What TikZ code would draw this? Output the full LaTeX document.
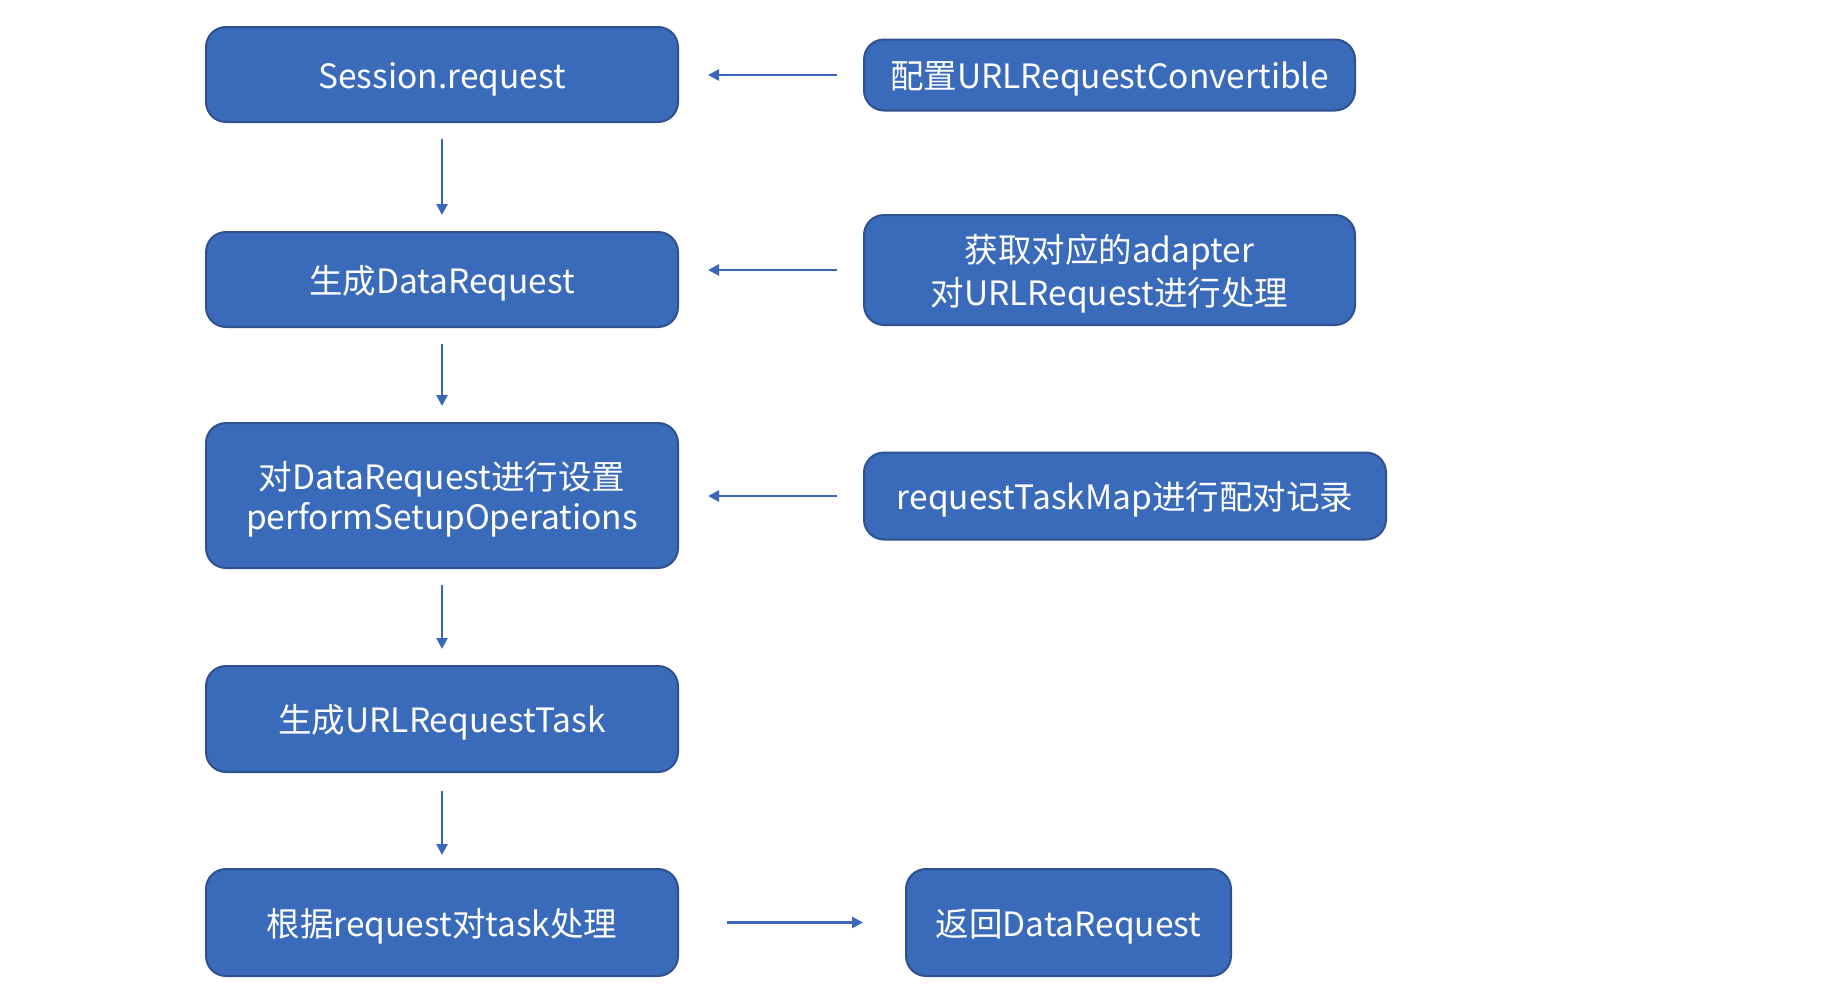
\documentclass[tikz,border=0pt]{standalone}
\usepackage{fontspec}
\setmainfont{Noto Sans CJK SC}
\usetikzlibrary{arrows.meta}
\definecolor{boxfill}{HTML}{3A6ABA}
\definecolor{boxline}{HTML}{2F528F}
\definecolor{arrowcol}{HTML}{3A67B8}
\begin{document}
\begin{tikzpicture}[x=1pt,y=-1pt,
  box/.style={draw=boxline, line width=2pt, fill=boxfill, rounded corners=20pt,
    text=white, align=center, inner sep=0pt, text height=32pt, text depth=5pt,
    font=\fontsize{33.5}{43}\selectfont},
  conn/.style={draw=arrowcol, line width=2.6pt, -{Triangle[length=11pt,width=11pt]}}]
\useasboundingbox (0,0) rectangle (1822,996);
% left column
\node[box, minimum width=472pt, minimum height=95pt] (b1) at (442,74.5) {Session.request};
\node[box, minimum width=472pt, minimum height=95pt] (b2) at (442,279.5) {生成DataRequest};
\node[box, minimum width=472pt, minimum height=145pt, text height=72pt] (b3) at (442,495.5) {对DataRequest进行设置\\[-3pt]performSetupOperations};
\node[box, minimum width=472pt, minimum height=106pt] (b4) at (442,719) {生成URLRequestTask};
\node[box, minimum width=472pt, minimum height=107pt] (b5) at (442,922.5) {根据request对task处理};
% right column
\node[box, minimum width=491pt, minimum height=71pt] (r1) at (1109.5,75) {配置URLRequestConvertible};
\node[box, minimum width=491pt, minimum height=110pt, text height=75pt] (r2) at (1109.5,270) {获取对应的adapter\\对URLRequest进行处理};
\node[box, minimum width=522pt, minimum height=87pt] (r3) at (1125,496) {requestTaskMap进行配对记录};
\node[box, minimum width=325pt, minimum height=107pt] (r5) at (1068.5,922.5) {返回DataRequest};
% vertical connectors
\draw[conn, shorten <=16pt, shorten >=16pt] (b1.south) -- (b2.north);
\draw[conn, shorten <=16pt, shorten >=16pt] (b2.south) -- (b3.north);
\draw[conn, shorten <=16pt, shorten >=16pt] (b3.south) -- (b4.north);
\draw[conn, shorten <=18pt, shorten >=13pt] (b4.south) -- (b5.north);
% horizontal connectors
\draw[conn, shorten <=26pt, shorten >=29pt] (r1.west) -- (r1.west -| b1.east);
\draw[conn, shorten <=26pt, shorten >=29pt] (r2.west) -- (r2.west -| b2.east);
\draw[conn, shorten <=26pt, shorten >=29pt] (r3.west) -- (r3.west -| b3.east);
\draw[conn, shorten <=48pt, shorten >=42pt] (b5.east) -- (r5.west);
\end{tikzpicture}
\end{document}
